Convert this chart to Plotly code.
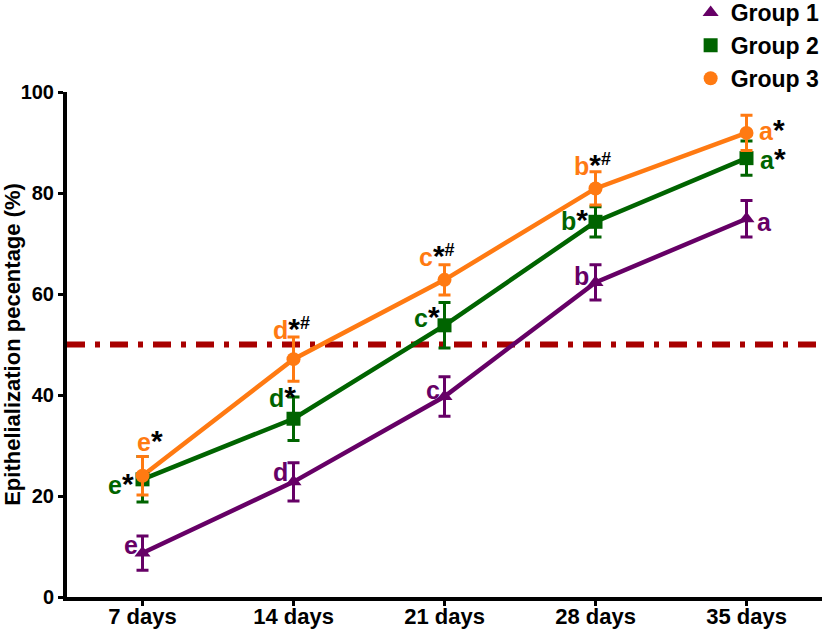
import plotly.graph_objects as go

days = ["7 days", "14 days", "21 days", "28 days", "35 days"]

g1_mean = [8.7, 22.8, 39.7, 62.3, 74.9]
g1_err = [3.4, 3.8, 3.9, 3.5, 3.6]
g1_letters = ["e", "d", "c", "b", "a"]
g1_marks = ["", "", "", "", ""]

g2_mean = [23.3, 35.3, 53.8, 74.3, 86.9]
g2_err = [4.5, 4.3, 4.5, 3.0, 3.4]
g2_letters = ["e", "d", "c", "b", "a"]
g2_marks = ["*", "*", "*", "*", "*"]

g3_mean = [24.0, 47.1, 62.8, 80.9, 91.9]
g3_err = [3.8, 4.4, 3.0, 3.3, 3.5]
g3_letters = ["e", "d", "c", "b", "a"]
g3_marks = ["*", "*#", "*#", "*#", "*"]

threshold = 50
y_ticks = [0, 20, 40, 60, 80, 100]

names = ["Group 1", "Group 2", "Group 3"]
colors = ["#660066", "#006400", "#ff7a12"]
symbols = ["triangle-up", "square", "circle"]
means = [g1_mean, g2_mean, g3_mean]
errs = [g1_err, g2_err, g3_err]
letters = [g1_letters, g2_letters, g3_letters]
marks = [g1_marks, g2_marks, g3_marks]

# annotation pixel offsets (style)
offsets = [
    [(-12, 8), (-13, 10), (-12, 7), (-14, 6), (18, -3)],
    [(-22, -4), (-11, 22), (-18, 9), (-21, 2), (26, 0)],
    [(7, 35), (-2, 31), (-8, 24), (-3, 24), (25, 3)],
]

FONT = "Liberation Sans, Arial, sans-serif"


def mark_html(m):
    out = ""
    for ch in m:
        if ch == "*":
            out += "<span style='font-size:30px'>*</span>"
        else:
            out += f"<sup><span style='font-size:18px'>{ch}</span></sup>"
    return out


fig = go.Figure()
fig.add_shape(type="line", xref="paper", x0=0, x1=1, yref="y", y0=threshold, y1=threshold,
              line=dict(color="#a80000", width=6, dash="18px,10px,5px,10px"), layer="below")

for i in range(3):
    fig.add_trace(go.Scatter(
        x=days, y=means[i], mode="lines", showlegend=False, hoverinfo="skip",
        line=dict(color=colors[i], width=4.5), cliponaxis=False,
    ))
for i in range(3):
    fig.add_trace(go.Scatter(
        x=days, y=means[i], name=names[i], mode="markers", legendgroup=names[i],
        marker=dict(symbol=symbols[i], size=14, color=colors[i]),
        error_y=dict(type="data", array=errs[i], color=colors[i], thickness=3, width=6),
        cliponaxis=False,
    ))

for i in range(3):
    for j, d in enumerate(days):
        sx, sy = offsets[i][j]
        txt = f"<span style='color:{colors[i]}'>{letters[i][j]}</span>" + mark_html(marks[i][j])
        fig.add_annotation(x=d, y=means[i][j], text=txt, showarrow=False,
                           xshift=sx, yshift=sy,
                           font=dict(family=FONT, size=25, color="black", weight="bold"))

fig.update_layout(
    width=827, height=631,
    margin=dict(l=67, r=5, t=92, b=34, autoexpand=False),
    plot_bgcolor="white", paper_bgcolor="white",
    font=dict(family=FONT, color="black", weight="bold"),
    showlegend=True,
    legend=dict(x=0.826, xanchor="left", y=1.2, yanchor="top",
                font=dict(family=FONT, size=23, color="black", weight="bold"),
                bgcolor="rgba(0,0,0,0)", tracegroupgap=0, traceorder="grouped",
                itemsizing="trace"),
    xaxis=dict(range=[-0.5, 4.5], showline=True, linecolor="black", linewidth=4,
               ticks="outside", ticklen=5, tickwidth=3, tickcolor="black", automargin=False,
               tickfont=dict(family=FONT, size=22, color="black", weight="bold"),
               ticklabelstandoff=-8,
               showgrid=False, zeroline=False),
    yaxis=dict(range=[0, 100], tickvals=y_ticks, showline=True, linecolor="black", linewidth=4,
               ticks="outside", ticklen=5, tickwidth=3, tickcolor="black", automargin=False,
               tickfont=dict(family=FONT, size=20, color="black", weight="bold"),
               showgrid=False, zeroline=False,
               title=dict(text="Epithelialization pecentage (%)", standoff=0,
                          font=dict(family=FONT, size=22, color="black", weight="bold"))),
)

fig.write_html("out.html", post_script="document.body.style.margin='0';",
               config={"displayModeBar": False})
